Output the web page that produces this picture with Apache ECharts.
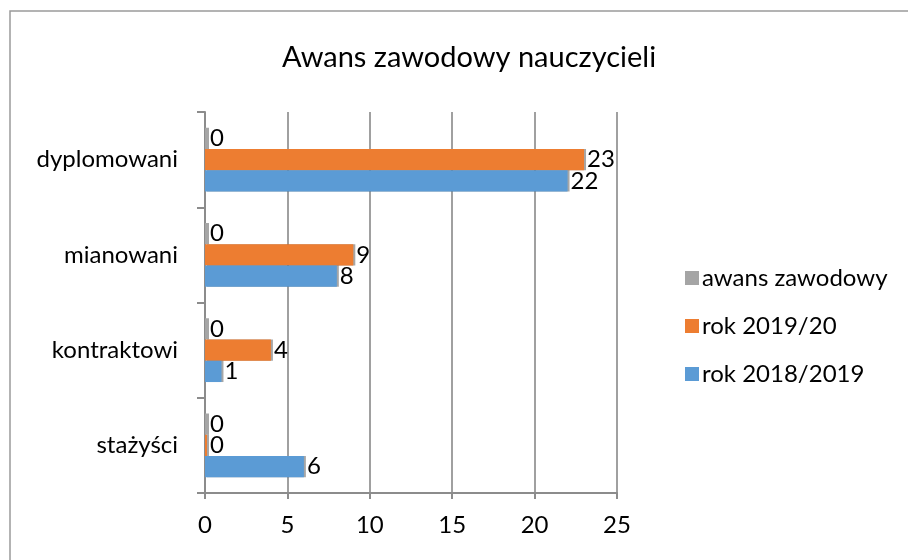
<!DOCTYPE html>
<html>
<head>
<meta charset="utf-8">
<script src="https://cdn.jsdelivr.net/npm/echarts@6/dist/echarts.min.js"></script>
<style>html,body{margin:0;padding:0;background:#fff}#c{width:908px;height:560px}</style>
</head>
<body>
<div id="c"></div>
<script>
const categories = ['stażyści', 'kontraktowi', 'mianowani', 'dyplomowani'];
const rok2018 = [6, 1, 8, 22];
const rok2019 = [0, 4, 9, 23];
const awans = [0, 0, 0, 0];
const xTicks = [0, 5, 10, 15, 20, 25];

const FONT = 'Lato';
const chart = echarts.init(document.getElementById('c'));
const lbl = {show: true, position: 'right', distance: 3, color: '#000', fontSize: 24, fontFamily: FONT};
function mk(name, data, color) {
  return {
    name: name, type: 'bar', data: data, barGap: '0%', barCategoryGap: '33%', barMinHeight: 2,
    itemStyle: {color: color, shadowColor: 'rgba(0,0,0,0.35)', shadowOffsetX: 2, shadowBlur: 0},
    label: lbl
  };
}
chart.setOption({
  animation: false,
  title: {text: 'Awans zawodowy nauczycieli', left: 464, top: 38, textAlign: 'center',
    textStyle: {fontFamily: FONT, fontWeight: 'normal', fontSize: 29, color: '#000'}},
  legend: {
    orient: 'vertical', left: 680, top: 261, itemWidth: 14, itemHeight: 14, itemGap: 24,
    icon: 'rect', data: ['awans zawodowy', 'rok 2019/20', 'rok 2018/2019'],
    textStyle: {fontFamily: FONT, fontSize: 24, color: '#000', padding: [0,0,0,-2]}
  },
  graphic: [{type: 'rect', shape: {x: 10, y: 11, width: 1000, height: 1000},
    style: {fill: 'none', stroke: '#9a9a9a', lineWidth: 1.5}, silent: true}],
  grid: {left: 205, top: 112, width: 412, height: 381, containLabel: false},
  xAxis: {
    type: 'value', min: 0, max: 25, interval: 5,
    axisLine: {show: true, lineStyle: {color: '#8c8c8c', width: 2}},
    axisTick: {show: true, length: 6, lineStyle: {color: '#8c8c8c', width: 2}},
    axisLabel: {fontFamily: FONT, fontSize: 24, color: '#000', margin: 20,
      formatter: v => xTicks.includes(v) ? String(v) : ''},
    splitLine: {show: true, lineStyle: {color: '#a0a0a0', width: 2}}
  },
  yAxis: {
    type: 'category', data: categories,
    axisLine: {show: true, lineStyle: {color: '#8c8c8c', width: 2}},
    axisTick: {show: true, length: 8, lineStyle: {color: '#8c8c8c', width: 2}},
    axisLabel: {fontFamily: FONT, fontSize: 24, color: '#000', margin: 27}
  },
  series: [
    mk('awans zawodowy', awans, '#a5a5a5'),
    mk('rok 2019/20', rok2019, '#ed7d31'),
    mk('rok 2018/2019', rok2018, '#5b9bd5')
  ]
});
</script>
</body>
</html>
